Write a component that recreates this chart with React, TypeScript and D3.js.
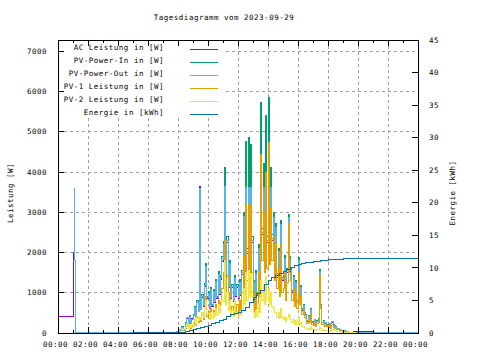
import React from "react";
import * as d3 from "d3";

const width = 480;
const height = 360;
const plot = { left: 58, right: 418, top: 40, bottom: 333 };

const title = "Tagesdiagramm vom 2023-09-29";
const legendLabels = [
  "AC Leistung in [W]",
  "PV-Power-In in [W]",
  "PV-Power-Out in [W]",
  "PV-1 Leistung in [W]",
  "PV-2 Leistung in [W]",
  "Energie in [kWh]",
];
const colors = ["#9400d3", "#009e73", "#56b4e9", "#e69f00", "#f0e442", "#0072b2"];

const leftTicks = [0, 1000, 2000, 3000, 4000, 5000, 6000, 7000];
const rightTicks = [0, 5, 10, 15, 20, 25, 30, 35, 40, 45];
const hourTicks = [0, 2, 4, 6, 8, 10, 12, 14, 16, 18, 20, 22, 24];

// daytime samples: every 5 minutes from 07:30 to 20:00 (one row = half an hour)
const dayStart = "07:30";
const dayStep = 5;

// AC Leistung [W]
const acNight: [string, number][] = [["00:00", 400], ["01:00", 2000], ["01:01", 1800], ["01:10", 0], ["07:25", 0]];
const acDay = [
  0, 0, 5, 10, 15, 22,
  38, 76, 58, 140, 48, 82,
  230, 365, 185, 405, 230, 370,
  430, 620, 375, 750, 525, 3650,
  575, 890, 665, 1145, 1620, 845,
  955, 620, 1050, 670, 1005, 770,
  1240, 850, 1420, 955, 1340, 1780,
  2130, 3600, 1420, 2240, 1130, 1690,
  860, 1120, 795, 1325, 895, 1120,
  860, 1230, 935, 1460, 2830, 1690,
  3610, 1970, 3610, 1970, 3610, 2250,
  1220, 825, 1450, 935, 2060, 1310,
  3610, 2440, 3610, 2060, 3610, 2250,
  3610, 2250, 3610, 2300, 2820, 1690,
  2560, 1390, 1980, 1175, 2640, 1300,
  1345, 1810, 1020, 1515, 2800, 1790,
  1535, 1000, 1345, 810, 1225, 755,
  1770, 855, 1100, 565, 675, 480,
  430, 295, 400, 315, 575, 260,
  240, 320, 190, 290, 340, 1500,
  665, 250, 290, 205, 255, 190,
  175, 220, 245, 270, 190, 165,
  140, 115, 105, 84, 76, 64,
  56, 46, 37, 29, 22, 16,
  11, 7, 35, 35, 35, 35,
  35,
];
const acTail: [string, number][] = [["21:00", 0], ["24:00", 0]];

// PV-Power-In [W]
const pvInDay = [
  0, 0, 7, 11, 18, 24,
  42, 85, 65, 150, 55, 90,
  250, 390, 200, 430, 250, 340,
  460, 660, 400, 800, 560, 710,
  610, 950, 710, 1220, 1720, 900,
  1020, 660, 1120, 720, 1070, 820,
  1320, 910, 1520, 1020, 1430, 1900,
  2280, 4120, 1520, 2400, 1210, 1800,
  920, 1200, 850, 1420, 960, 1200,
  920, 1320, 1000, 1560, 3000, 1800,
  4750, 2100, 4850, 2100, 4680, 2400,
  1300, 880, 1550, 1000, 2200, 1400,
  5730, 2600, 4200, 2200, 5400, 2400,
  5860, 2400, 4100, 2450, 3000, 1800,
  2720, 1480, 2100, 1250, 2800, 1380,
  1430, 1920, 1080, 1610, 2950, 1900,
  1630, 1060, 1430, 860, 1300, 800,
  1880, 910, 1170, 600, 720, 510,
  460, 310, 425, 335, 610, 275,
  255, 340, 205, 305, 360, 1580,
  710, 265, 305, 220, 270, 205,
  185, 235, 155, 285, 205, 175,
  150, 122, 111, 90, 81, 69,
  60, 50, 40, 31, 24, 18,
  12, 8, 5, 3, 1, 0,
  0,
];

// PV-Power-Out [W]
const pvOutNight: [string, number][] = [["01:01", 1800], ["01:05", 3600], ["01:06", 1800], ["01:10", 5], ["07:25", 5]];
const pvOutDay = [
  5, 5, 8, 12, 18, 25,
  40, 80, 60, 145, 50, 85,
  240, 375, 190, 415, 240, 325,
  440, 635, 385, 770, 540, 3600,
  590, 915, 685, 1175, 1660, 870,
  980, 635, 1075, 690, 1030, 790,
  1270, 875, 1460, 980, 1375, 1825,
  2190, 3650, 1460, 2300, 1160, 1730,
  885, 1150, 815, 1360, 920, 1150,
  885, 1265, 960, 1500, 2900, 1730,
  3620, 2020, 3620, 2020, 3620, 2300,
  1250, 845, 1490, 960, 2110, 1345,
  3620, 2500, 3620, 2110, 3620, 2300,
  3620, 2300, 3620, 2350, 2880, 1730,
  2610, 1420, 2020, 1200, 2690, 1325,
  1375, 1845, 1040, 1545, 2860, 1825,
  1565, 1020, 1375, 825, 1250, 770,
  1805, 875, 1125, 575, 690, 490,
  440, 300, 410, 320, 585, 265,
  245, 325, 195, 295, 345, 1540,
  680, 255, 295, 210, 260, 195,
  180, 225, 150, 275, 195, 170,
  145, 117, 107, 86, 78, 66,
  58, 48, 38, 30, 23, 17,
  12, 8, 5, 5, 5, 5,
  5,
];
const pvOutTail: [string, number][] = [["24:00", 5]];

// PV-1 Leistung [W]
const pv1Day = [
  0, 0, 3, 5, 8, 12,
  20, 45, 30, 70, 25, 45,
  120, 190, 100, 210, 120, 160,
  200, 320, 180, 380, 260, 330,
  280, 450, 330, 600, 900, 420,
  540, 330, 600, 360, 560, 420,
  700, 450, 800, 500, 750, 1100,
  1500, 2300, 800, 1400, 650, 1000,
  500, 650, 450, 620, 500, 700,
  500, 800, 550, 1000, 1900, 1100,
  3200, 1300, 3230, 1200, 3150, 1500,
  800, 500, 1000, 600, 1500, 900,
  4430, 1800, 3000, 1500, 4000, 1600,
  4740, 1700, 3100, 1800, 2400, 1300,
  2200, 1100, 1600, 900, 2200, 1000,
  1100, 1500, 800, 1250, 2720, 1500,
  1300, 800, 1100, 650, 1000, 600,
  1500, 700, 900, 450, 550, 380,
  350, 230, 320, 250, 480, 200,
  190, 260, 150, 230, 270, 1450,
  600, 200, 230, 160, 200, 150,
  130, 170, 110, 200, 140, 120,
  100, 80, 75, 60, 55, 45,
  40, 33, 26, 20, 15, 12,
  8, 5, 3, 2, 1, 0,
  0,
];

// PV-2 Leistung [W]
const pv2Day = [
  0, 0, 4, 6, 10, 12,
  22, 40, 35, 80, 30, 45,
  130, 200, 100, 220, 130, 180,
  260, 340, 220, 420, 300, 380,
  330, 500, 380, 620, 800, 480,
  480, 330, 520, 360, 510, 400,
  620, 460, 720, 520, 680, 800,
  780, 1800, 720, 1000, 560, 800,
  420, 550, 400, 800, 460, 500,
  420, 520, 450, 560, 1100, 700,
  1500, 800, 1560, 900, 1480, 900,
  500, 380, 550, 400, 700, 500,
  1300, 800, 1200, 700, 1400, 800,
  1100, 700, 1000, 650, 600, 500,
  520, 380, 500, 350, 600, 380,
  330, 420, 280, 360, 450, 400,
  330, 260, 330, 210, 300, 200,
  380, 210, 270, 150, 170, 130,
  110, 80, 105, 85, 130, 75,
  65, 80, 55, 75, 90, 130,
  110, 65, 75, 60, 70, 55,
  55, 65, 45, 85, 65, 55,
  50, 42, 36, 30, 26, 24,
  20, 17, 14, 11, 9, 6,
  4, 3, 2, 1, 0, 0,
  0,
];

// Energie [kWh]
const energy: [string, number][] = [
  ["01:05", 0], ["05:00", 0.1], ["08:00", 0.1], ["08:30", 0.2], ["08:45", 0.4], ["09:00", 0.55],
  ["09:15", 0.7], ["09:30", 0.85], ["09:45", 1.0], ["10:00", 1.2], ["10:15", 1.4], ["10:30", 1.6],
  ["10:45", 1.85], ["11:00", 2.1], ["11:15", 2.6], ["11:30", 2.85], ["11:45", 3.05], ["12:00", 3.2],
  ["12:15", 3.4], ["12:30", 3.9], ["12:45", 4.7], ["13:00", 5.5], ["13:15", 6.0], ["13:30", 6.6],
  ["13:45", 7.5], ["14:00", 8.1], ["14:15", 8.5], ["14:30", 8.8], ["14:45", 9.1], ["15:00", 9.4],
  ["15:15", 9.7], ["15:30", 10.1], ["15:45", 10.35], ["16:00", 10.55], ["16:15", 10.7], ["16:30", 10.8],
  ["16:45", 10.85], ["17:00", 10.95], ["17:15", 11.05], ["17:30", 11.15], ["17:45", 11.2], ["18:00", 11.25],
  ["18:15", 11.3], ["18:30", 11.32], ["18:45", 11.35], ["19:00", 11.37], ["19:30", 11.4], ["20:00", 11.42],
  ["24:00", 11.42],
];

type Pt = [number, number];

const toHours = (s: string) => {
  const [h, m] = s.split(":").map(Number);
  return h + m / 60;
};
const dayHours = (i: number) => toHours(dayStart) + (i * dayStep) / 60;
const fromPairs = (p: [string, number][]): Pt[] => p.map(([t, v]) => [toHours(t), v]);
const fromDay = (vals: number[]): Pt[] => vals.map((v, i) => [dayHours(i), v]);

const series: { pts: Pt[]; right?: boolean }[] = [
  { pts: [...fromPairs(acNight), ...fromDay(acDay), ...fromPairs(acTail)] },
  { pts: fromDay(pvInDay) },
  { pts: [...fromPairs(pvOutNight), ...fromDay(pvOutDay), ...fromPairs(pvOutTail)] },
  { pts: fromDay(pv1Day) },
  { pts: fromDay(pv2Day) },
  { pts: fromPairs(energy), right: true },
];

const font = "'DejaVu Sans Mono', monospace";

export default function App() {
  const x = d3.scaleLinear().domain([0, 24]).range([plot.left, plot.right]);
  const yL = d3.scaleLinear().domain([0, 7280]).range([plot.bottom, plot.top]);
  const yR = d3.scaleLinear().domain([0, 45]).range([plot.bottom, plot.top]);

  const lineL = d3.line<Pt>().x((d) => x(d[0])).y((d) => yL(d[1])).curve(d3.curveStepAfter);
  const lineR = d3.line<Pt>().x((d) => x(d[0])).y((d) => yR(d[1])).curve(d3.curveStepAfter);

  const hourLabel = (h: number) => `${d3.format("02")(h % 24)}:00`;
  const minorHours = d3.range(1, 24, 2);

  const textStyle = { fontFamily: font, fontSize: "7.5px", letterSpacing: "0.5px" };

  return (
    <svg
      width={width}
      height={height}
      style={{ position: "fixed", left: 0, top: 0, background: "#fff" }}
    >
      <rect width={width} height={height} fill="#fff" />

      {/* grid */}
      <g stroke="#a0a0a0" strokeDasharray="3,3" shapeRendering="crispEdges">
        {hourTicks.slice(1, -1).map((h) => (
          <line key={"gx" + h} x1={x(h)} x2={x(h)} y1={plot.top} y2={plot.bottom} />
        ))}
        {leftTicks.slice(1).map((v) => (
          <line key={"gy" + v} x1={plot.left} x2={plot.right} y1={yL(v)} y2={yL(v)} />
        ))}
      </g>

      {/* data */}
      <g fill="none" strokeWidth={1} shapeRendering="crispEdges">
        {series.map((s, i) => (
          <path key={i} d={(s.right ? lineR : lineL)(s.pts) ?? ""} stroke={colors[i]} />
        ))}
      </g>

      {/* key (opaque) */}
      <rect x={plot.left + 1} y={plot.top + 1} width={166} height={77} fill="#fff" />
      <g style={textStyle}>
        {legendLabels.map((l, i) => {
          const ly = Math.round(49 + 13.05 * i) + 0.5;
          return (
            <g key={l}>
              <text x={164} y={ly} textAnchor="end" fill="#000">
                {l}
              </text>
              <line x1={190} x2={218} y1={ly} y2={ly} stroke={colors[i]} strokeWidth={1} />
            </g>
          );
        })}
      </g>

      {/* ticks */}
      <g stroke="#000" shapeRendering="crispEdges">
        {leftTicks.map((v) => (
          <line key={"tl" + v} x1={plot.left} x2={plot.left + 6} y1={yL(v)} y2={yL(v)} />
        ))}
        {rightTicks.map((v) => (
          <line key={"tr" + v} x1={plot.right - 6} x2={plot.right} y1={yR(v)} y2={yR(v)} />
        ))}
        {hourTicks.map((h) => (
          <g key={"tx" + h}>
            <line x1={x(h)} x2={x(h)} y1={plot.bottom} y2={plot.bottom - 6} />
            <line x1={x(h)} x2={x(h)} y1={plot.top} y2={plot.top + 6} />
          </g>
        ))}
        {minorHours.map((h) => (
          <g key={"mx" + h}>
            <line x1={x(h)} x2={x(h)} y1={plot.bottom} y2={plot.bottom - 3} />
            <line x1={x(h)} x2={x(h)} y1={plot.top} y2={plot.top + 3} />
          </g>
        ))}
      </g>

      {/* border */}
      <rect
        x={plot.left}
        y={plot.top}
        width={plot.right - plot.left}
        height={plot.bottom - plot.top}
        fill="none"
        stroke="#000"
        shapeRendering="crispEdges"
      />

      {/* labels */}
      <g style={textStyle} fill="#000">
        {leftTicks.map((v) => (
          <text key={"ll" + v} x={47} y={yL(v) + 2.7} textAnchor="end">
            {v}
          </text>
        ))}
        {rightTicks.map((v) => (
          <text key={"rl" + v} x={429} y={yR(v) + 2.7}>
            {v}
          </text>
        ))}
        {hourTicks.map((h) => (
          <text key={"xl" + h} x={x(h) - 2.5} y={347} textAnchor="middle">
            {hourLabel(h)}
          </text>
        ))}
        <text x={224} y={20} textAnchor="middle">
          {title}
        </text>
        <text transform="translate(13,193) rotate(-90)" textAnchor="middle">
          Leistung [W]
        </text>
        <text transform="translate(455,193) rotate(-90)" textAnchor="middle">
          Energie [kWh]
        </text>
      </g>
    </svg>
  );
}
